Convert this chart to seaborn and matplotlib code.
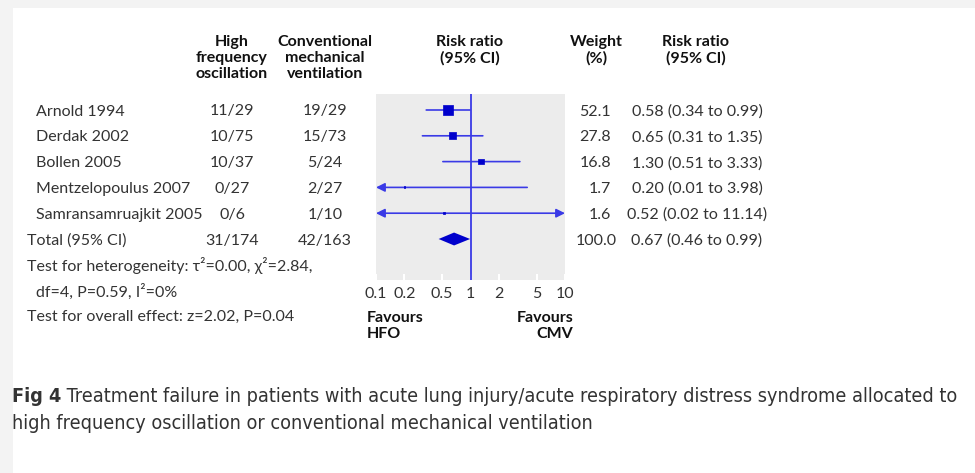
import numpy as np
import matplotlib
matplotlib.use("Agg")
import matplotlib.pyplot as plt
import matplotlib.transforms as mtransforms
from matplotlib.patches import Rectangle
import seaborn as sns

# -----------------------------
# DATA
# -----------------------------
studies = ["Arnold 1994", "Derdak 2002", "Bollen 2005",
           "Mentzelopoulus 2007", "Samransamruajkit 2005"]
hfo = ["11/29", "10/75", "10/37", "0/27", "0/6"]
cmv = ["19/29", "15/73", "5/24", "2/27", "1/10"]
rr = [0.58, 0.65, 1.30, 0.20, 0.52]
ci_lo = [0.34, 0.31, 0.51, 0.01, 0.02]
ci_hi = [0.99, 1.35, 3.33, 3.98, 11.14]
weight = [52.1, 27.8, 16.8, 1.7, 1.6]

total_hfo = "31/174"
total_cmv = "42/163"
total_rr, total_lo, total_hi = 0.67, 0.46, 0.99
total_weight = 100.0

xticks = [0.1, 0.2, 0.5, 1, 2, 5, 10]
xticklabels = ["0.1", "0.2", "0.5", "1", "2", "5", "10"]

caption_bold = "Fig 4"
caption_1 = " Treatment failure in patients with acute lung injury/acute respiratory distress syndrome allocated to"
caption_2 = "high frequency oscillation or conventional mechanical ventilation"

# -----------------------------
# STYLE
# -----------------------------
sns.set_theme(style="white")
plt.rcParams["font.family"] = ["Lato", "DejaVu Sans"]
W, H = 975, 473
BLUE = "#0000cc"
LINE = "#3a3ae6"
TXT = "#333333"
FS = 11.5

fig = plt.figure(figsize=(W / 100, H / 100), dpi=100)
fig.patch.set_facecolor("#f3f3f3")
fig.patches.append(Rectangle((13 / W, 0), 1, 1 - 8 / H, transform=fig.transFigure,
                             facecolor="white", edgecolor="none", zorder=-10))


def fx(px):
    return px / W


def fy(py):
    return 1 - py / H


# forest panel
ax = fig.add_axes([fx(376), fy(280), fx(565) - fx(376), fy(94) - fy(280)])
ax.set_facecolor("#ececec")
for s in ax.spines.values():
    s.set_visible(False)
ax.set_xscale("log")
ax.set_xlim(0.1, 10)
ax.set_ylim(5 + 41 / 25.8, -16 / 25.8)
ax.set_xticks(xticks)
ax.set_xticklabels(xticklabels)
ax.xaxis.set_minor_locator(matplotlib.ticker.NullLocator())
ax.tick_params(axis="x", direction="in", length=4, width=1.5, color="white",
               labelsize=FS, labelcolor=TXT, pad=5, bottom=True)
ax.set_yticks([])

rows = np.arange(len(studies))
xmin, xmax = ax.get_xlim()

# confidence intervals (clipped, with arrows when off-scale)
for i in rows:
    lo = max(ci_lo[i], xmin)
    hi = min(ci_hi[i], xmax)
    left_off = ci_lo[i] < xmin
    right_off = ci_hi[i] > xmax
    if left_off and right_off:
        style = "<|-|>"
    elif left_off:
        style = "<|-"
    elif right_off:
        style = "-|>"
    else:
        style = "-"
    ax.annotate("", xy=(hi, i), xytext=(lo, i),
                arrowprops=dict(arrowstyle=style, color=LINE, lw=1.2,
                                mutation_scale=13, shrinkA=0, shrinkB=0),
                zorder=2)

# point estimates, size by weight
sns.scatterplot(x=rr, y=rows, s=np.array(weight) * 1.0, marker="s",
                color=BLUE, edgecolor=BLUE, linewidth=0.5, legend=False, ax=ax, zorder=4)

# pooled diamond
ty = len(studies)
h = 0.25
ax.fill([total_lo, total_rr, total_hi, total_rr], [ty, ty - h, ty, ty + h],
        color=BLUE, lw=0, zorder=4)

# line of no effect
ax.axvline(1, color=LINE, lw=1.3, zorder=3)
ax.set_xlabel("")
ax.set_ylabel("")

# -----------------------------
# TABLE TEXT
# -----------------------------
tr = mtransforms.blended_transform_factory(fig.transFigure, ax.transData)
rk = dict(transform=tr, fontsize=FS, color=TXT, va="center_baseline")

for i, name in enumerate(studies):
    fig.text(fx(36), i, name, **rk)
    fig.text(fx(232), i, hfo[i], ha="center", **rk)
    fig.text(fx(325), i, cmv[i], ha="center", **rk)
    fig.text(fx(611), i, f"{weight[i]:.1f}", ha="right", **rk)
    fig.text(fx(697), i, f"{rr[i]:.2f} ({ci_lo[i]:.2f} to {ci_hi[i]:.2f})", ha="center", **rk)

fig.text(fx(27), ty, "Total (95% CI)", **rk)
fig.text(fx(232), ty, total_hfo, ha="center", **rk)
fig.text(fx(325), ty, total_cmv, ha="center", **rk)
fig.text(fx(617), ty, f"{total_weight:.1f}", ha="right", **rk)
fig.text(fx(697), ty, f"{total_rr:.2f} ({total_lo:.2f} to {total_hi:.2f})", ha="center", **rk)

fig.text(fx(27), fy(264), "Test for heterogeneity: τ²=0.00, χ²=2.84,", fontsize=FS,
         color=TXT, va="center_baseline")
fig.text(fx(36), fy(290), "df=4, P=0.59, I²=0%", fontsize=FS, color=TXT,
         va="center_baseline")
fig.text(fx(27), fy(315), "Test for overall effect: z=2.02, P=0.04", fontsize=FS,
         color=TXT, va="center_baseline")

# headers
hk = dict(fontsize=FS, fontweight="bold", color="#111111", ha="center", va="top",
          linespacing=1.17)
fig.text(fx(232), fy(35), "High\nfrequency\noscillation", **hk)
fig.text(fx(325), fy(35), "Conventional\nmechanical\nventilation", **hk)
fig.text(fx(470), fy(35), "Risk ratio\n(95% CI)", **hk)
fig.text(fx(596), fy(35), "Weight\n(%)", **hk)
fig.text(fx(696), fy(35), "Risk ratio\n(95% CI)", **hk)

fk = dict(fontsize=FS, fontweight="bold", color="#111111", va="top", linespacing=1.17)
fig.text(fx(367), fy(311), "Favours\nHFO", ha="left", **fk)
fig.text(fx(573), fy(311), "Favours\nCMV", ha="right", multialignment="right", **fk)

# caption: condensed face, size fitted to the card width
cap = dict(fontsize=13, color="#333333", va="center", fontstretch="condensed",
           family=["DejaVu Sans", "Liberation Sans"])
t0 = fig.text(fx(12), fy(396), caption_bold, fontweight="bold", **cap)
fig.canvas.draw()
bb = t0.get_window_extent()
t1 = fig.text(bb.x1 / W, fy(396), caption_1, **cap)
fig.canvas.draw()
scale = (958 - 12) / (t1.get_window_extent().x1 - 12)
size = 13 * scale
t0.set_fontsize(size)
t1.set_fontsize(size)
fig.canvas.draw()
t1.set_x(t0.get_window_extent().x1 / W)
t2 = fig.text(fx(12), fy(423), caption_2, **cap)
t2.set_fontsize(size)

fig.savefig("out.png", dpi=100, facecolor=fig.get_facecolor())
